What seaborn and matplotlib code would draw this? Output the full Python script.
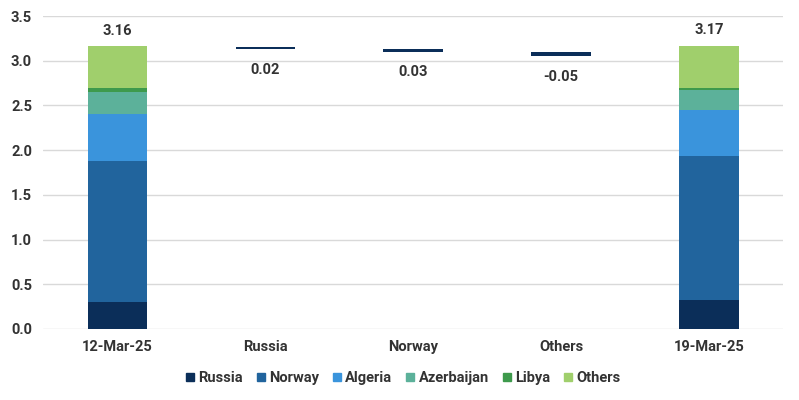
import pandas as pd
import matplotlib.pyplot as plt
import seaborn as sns
from matplotlib.lines import Line2D

# Data
categories = ["12-Mar-25", "Russia", "Norway", "Others", "19-Mar-25"]
series = ["Russia", "Norway", "Algeria", "Azerbaijan", "Libya", "Others"]
colors = ["#0b2e59", "#21649d", "#3a94dc", "#5cb19a", "#3e9a4c", "#a0cf6c"]

start_vals = [0.30, 1.58, 0.52, 0.25, 0.04, 0.47]   # 12-Mar-25
end_vals = [0.32, 1.62, 0.51, 0.22, 0.03, 0.47]     # 19-Mar-25
totals = [3.16, 3.17]

delta_cats = ["Russia", "Norway", "Others"]
delta_vals = [0.02, 0.03, -0.05]
delta_start = [3.13, 3.10, 3.10]

sns.set_theme(style="white")
plt.rcParams['font.family'] = ['Roboto', 'DejaVu Sans']

# cumulative tops for the stacked columns
rows = []
for cat, vals in [("12-Mar-25", start_vals), ("19-Mar-25", end_vals)]:
    run = 0
    for s, v in zip(series, vals):
        run += v
        rows.append({"cat": cat, "series": s, "top": run})
df = pd.DataFrame(rows)

fig, ax = plt.subplots(figsize=(7.99, 4), dpi=100)
fig.subplots_adjust(left=0.054, right=0.98, top=0.96, bottom=0.1775)

ax.yaxis.grid(True, color="#d9d9d9", linewidth=1)
ax.set_axisbelow(True)

# draw tallest first so each lower layer sits on top
sns.barplot(data=df, x="cat", y="top", hue="series", order=categories,
            hue_order=series[::-1], palette=dict(zip(series, colors)),
            dodge=False, width=0.4, saturation=1, legend=False,
            linewidth=0, edgecolor="none", ax=ax)

# floating change bars
ax.bar(x=[categories.index(c) for c in delta_cats], height=delta_vals,
       bottom=delta_start, width=0.4, color=colors[0], linewidth=0)

lab = dict(fontsize=10.5, fontweight="bold", color="#333333", ha="center")
ax.text(0, totals[0] + 0.09, f"{totals[0]:.2f}", va="bottom", **lab)
ax.text(4, totals[1] + 0.09, f"{totals[1]:.2f}", va="bottom", **lab)
for c, v, b in zip(delta_cats, delta_vals, delta_start):
    ax.text(categories.index(c), min(b, b + v) - 0.15, f"{v:.2f}", va="top", **lab)

ax.set_ylim(0, 3.5)
ax.set_xlim(-0.5, 4.5)
ax.set_yticks([0, 0.5, 1.0, 1.5, 2.0, 2.5, 3.0, 3.5])
ax.set_yticklabels([f"{t:.1f}" for t in ax.get_yticks()])
ax.set_xlabel("")
ax.set_ylabel("")
ax.tick_params(axis="both", length=0, labelsize=10.5, labelcolor="#333333", pad=8)
for t in ax.get_xticklabels() + ax.get_yticklabels():
    t.set_fontweight("bold")
sns.despine(ax=ax, left=True, bottom=True)

handles = [Line2D([], [], marker="s", linestyle="", color=c, markersize=6) for c in colors]
leg = fig.legend(handles, series, loc="center", bbox_to_anchor=(0.505, 0.055), ncol=6,
                 frameon=False, handlelength=0.5, handletextpad=0.3, columnspacing=1.0,
                 prop={"size": 10.5, "weight": "bold"})
for t in leg.get_texts():
    t.set_color("#333333")

plt.savefig("out.png", dpi=100)
